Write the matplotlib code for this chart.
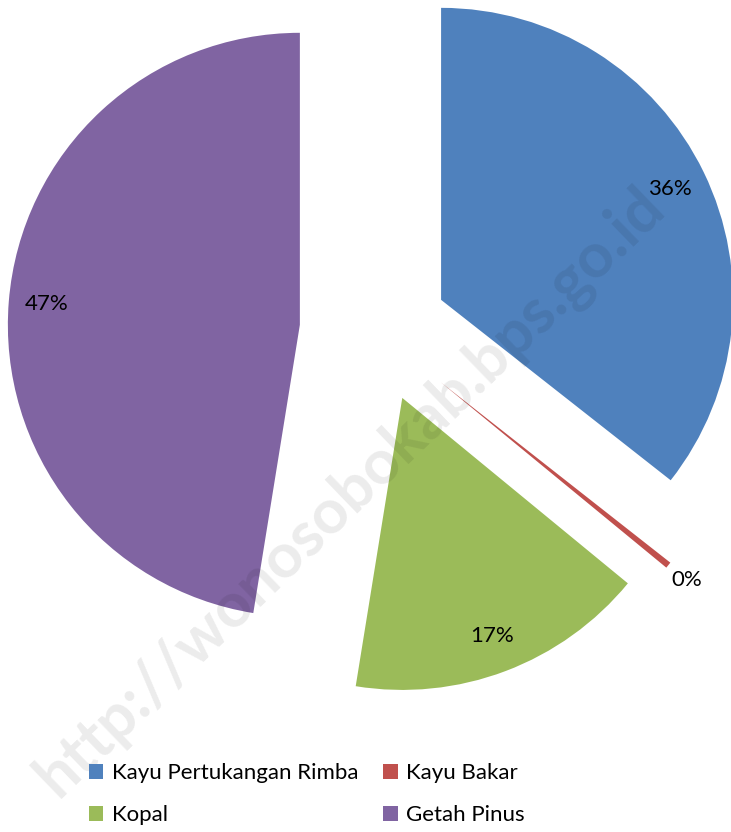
import numpy as np
import matplotlib
matplotlib.use("Agg")
import matplotlib.pyplot as plt

plt.rcParams['font.family'] = ['Lato', 'DejaVu Sans']

# share of each product (percent)
categories = ["Kayu Pertukangan Rimba", "Kayu Bakar", "Kopal", "Getah Pinus"]
values = [35.6, 0.35, 16.6, 47.45]
colors = ["#4F81BD", "#C0504D", "#9BBB59", "#8064A2"]
explode = [0.244, 0.28, 0.245, 0.265]

W, H = 731, 832
cx, cy, R = 377, 331, 292   # pie centre / radius in pixels

fig = plt.figure(figsize=(W / 100, H / 100), dpi=100)
ax = fig.add_axes([0, 0, 1, 1])
ax.set_xlim(-cx / R, (W - cx) / R)
ax.set_ylim((cy - H) / R, cy / R)
ax.set_aspect('equal')
ax.axis('off')

wedges, texts, autotexts = ax.pie(
    values, colors=colors, explode=explode, startangle=90, counterclock=False,
    radius=1, autopct=lambda p: f"{int(p + 0.5)}%", pctdistance=0.87,
    textprops=dict(fontsize=16, color='black'), frame=True,
    wedgeprops=dict(linewidth=0))
ax.axis('off')

# small slice label sits outside the wedge
w = wedges[1]
mid = np.deg2rad((w.theta1 + w.theta2) / 2)
autotexts[1].set_position((w.center[0] + 1.08 * np.cos(mid),
                           w.center[1] + 1.08 * np.sin(mid)))

# legend filled row by row (matplotlib fills by column)
order = [0, 2, 1, 3]
fig.legend([wedges[i] for i in order], [categories[i] for i in order],
           ncol=2, frameon=False, loc='center',
           bbox_to_anchor=(307 / W, 1 - 794 / H), fontsize=16,
           handlelength=0.65, handleheight=0.65, handletextpad=0.4,
           columnspacing=1.1, labelspacing=1.0)

# watermark
fig.text(350 / W, 1 - 492 / H, "http://wonosobokab.bps.go.id", rotation=44,
         fontsize=45, fontweight='bold', color='black', alpha=0.08,
         ha='center', va='center', rotation_mode='anchor')

fig.savefig("out.png", dpi=100)
